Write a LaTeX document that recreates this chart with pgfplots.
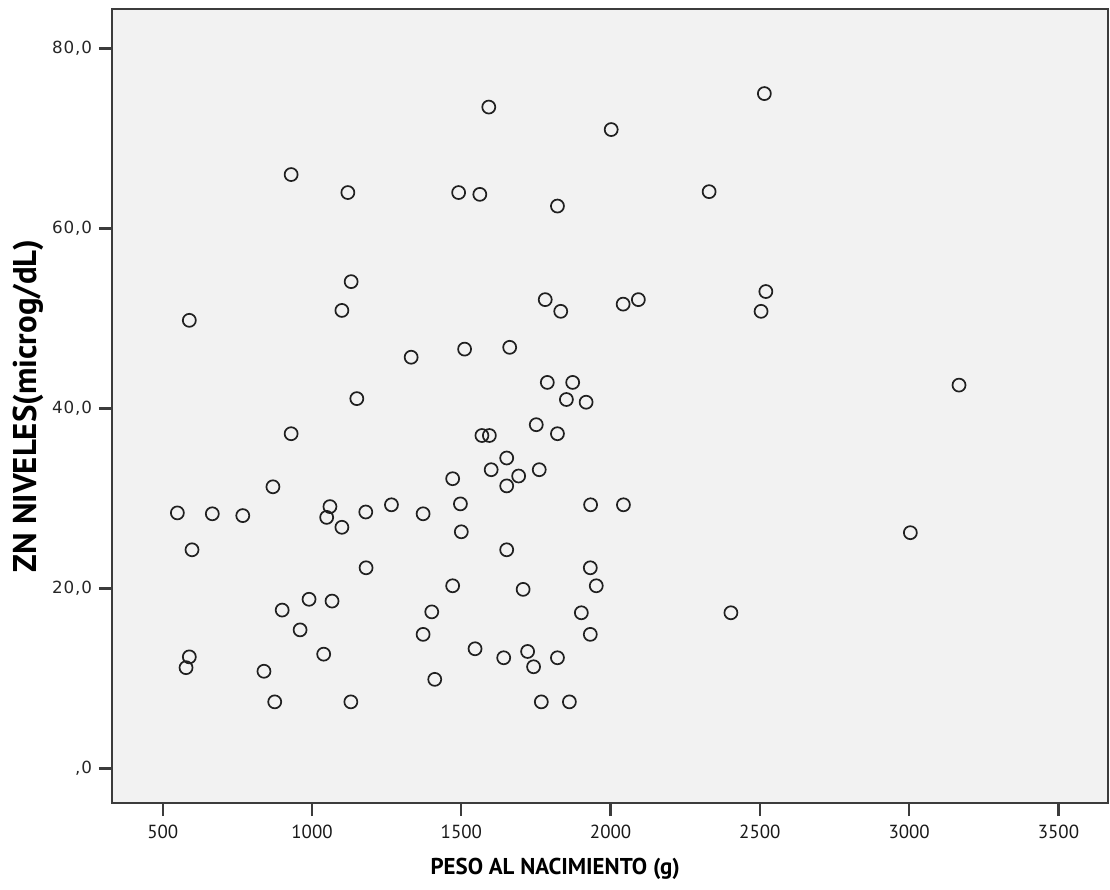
\documentclass[border=0pt]{standalone}
\usepackage{fontspec}
\setmainfont{PT Sans}
\newfontfamily\tickfont[LetterSpace=5]{DejaVu Sans}
\usepackage{pgfplots}
\pgfplotsset{compat=1.18}
\definecolor{panel}{HTML}{F2F2F2}
\definecolor{frame}{HTML}{3C3C3C}
\definecolor{marker}{HTML}{202020}
\begin{document}
\begin{tikzpicture}
\begin{axis}[
  name=ax,
  scale only axis, width=498bp, height=397bp,
  xmin=330, xmax=3666, ymin=-3.84, ymax=84.4,
  axis background/.style={fill=panel},
  axis line style={frame, line width=1.1bp},
  xtick pos=bottom, ytick pos=left,
  tick align=outside, major tick length=6.5bp,
  every tick/.style={frame, line width=1.1bp},
  /pgf/number format/assume math mode=true,
  xtick={500,1000,1500,2000,2500,3000,3500},
  ytick={0,20,40,60,80},
  yticklabels={{,0},{20,0},{40,0},{60,0},{80,0}},
  scaled x ticks=false,
  xticklabel={\pgfmathprintnumber[fixed,1000 sep={}]{\tick}},
  xticklabel style={font=\fontsize{9.5}{11}\selectfont, text=black!90, yshift=-1bp},
  yticklabel style={font=\tickfont\fontsize{8.4}{10}\selectfont, text=black!85},
  xlabel={PESO AL NACIMIENTO (g)},
  ylabel={ZN NIVELES(microg/dL)},
  xlabel style={at={(axis description cs:0.445,-0.0831)}, anchor=center, font=\bfseries\fontsize{11.5}{14}\selectfont},
  ylabel style={at={(axis description cs:-0.0843,0.5)}, anchor=center, font=\bfseries\fontsize{16.5}{18}\selectfont},
]
\addplot[only marks, mark=o, mark size=3.25bp, mark options={draw=marker, line width=0.85bp}]
table[row sep=\\] {
x y\\
930 66.0\\ 1120 64.0\\
1592 73.5\\ 2002 71.0\\ 1491 64.0\\ 1562 63.8\\ 1822 62.5\\ 2330 64.1\\
1131 54.1\\ 1100 50.9\\ 589 49.8\\ 1332 45.7\\ 1150 41.1\\ 930 37.2\\
869 31.3\\ 549 28.4\\ 666 28.3\\ 768 28.1\\ 1060 29.1\\ 1049 27.9\\
1100 26.8\\ 1180 28.5\\ 1266 29.3\\
1781 52.1\\ 1833 50.8\\ 2042 51.6\\ 2093 52.1\\ 1511 46.6\\ 1662 46.8\\
1788 42.9\\ 1873 42.9\\ 1852 41.0\\ 1918 40.7\\ 1751 38.2\\ 1822 37.2\\
1569 37.0\\ 1594 37.0\\ 1652 34.5\\ 1600 33.2\\ 1692 32.5\\ 1761 33.2\\
1652 31.4\\ 1471 32.2\\ 1497 29.4\\ 1372 28.3\\ 1500 26.3\\ 1933 29.3\\
2043 29.3\\
598 24.3\\ 1181 22.3\\ 990 18.8\\ 1067 18.6\\ 900 17.6\\ 960 15.4\\
1039 12.7\\ 589 12.4\\ 578 11.2\\ 839 10.8\\ 875 7.4\\ 1130 7.4\\
1652 24.3\\ 1932 22.3\\ 1952 20.3\\ 1471 20.3\\ 1707 19.9\\ 1401 17.4\\
1902 17.3\\ 1372 14.9\\ 1932 14.9\\ 1546 13.3\\ 1642 12.3\\ 1722 13.0\\
1742 11.3\\ 1822 12.3\\ 1411 9.9\\ 1768 7.4\\ 1862 7.4\\
2515 75.0\\ 2520 53.0\\ 2504 50.8\\ 3167 42.6\\ 3004 26.2\\ 2403 17.3\\
};
\end{axis}
\pgfresetboundingbox
\path ([xshift=-56bp,yshift=-43.5bp]ax.south west) rectangle ([xshift=1bp,yshift=4.5bp]ax.north east);
\end{tikzpicture}
\end{document}
